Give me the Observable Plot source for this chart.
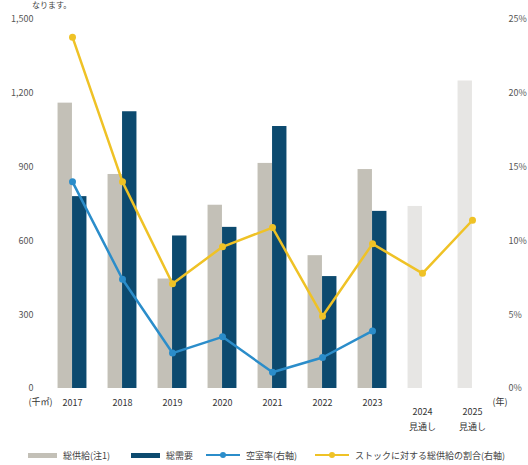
<!DOCTYPE html>
<html>
<head>
<meta charset="utf-8">
<script src="https://cdn.jsdelivr.net/npm/d3@7"></script>
<script src="https://cdn.jsdelivr.net/npm/@observablehq/plot@0.6"></script>
<style>
  body { margin: 0; background: #fff; font-family: "Noto Sans CJK JP", sans-serif; }
  #wrap { position: relative; width: 528px; height: 465px; overflow: hidden; }
  #top { position: absolute; left: 32px; top: 0px; font-size: 8px; line-height: 9px; color: #444; }
  #chart { position: absolute; left: 0; top: 0; }
  #legend { position: absolute; left: 0; top: 447px; width: 528px; height: 16px; font-size: 9px; color: #444; }
  .li { position: absolute; top: 0; display: flex; align-items: center; height: 16px; white-space: nowrap; }
  .sw { display: inline-block; margin-right: 6px; position: relative; }
</style>
</head>
<body>
<div id="wrap">
  <div id="chart"></div>
  <div id="top">なります。</div>
  <div id="legend"></div>
</div>
<script>
const years = ["2017", "2018", "2019", "2020", "2021", "2022", "2023", "2024", "2025"];
const forecastYears = ["2024", "2025"];
const supply = [1160, 870, 445, 745, 915, 540, 890, 740, 1250];      // 総供給 (千㎡)
const demand = [780, 1125, 620, 655, 1065, 455, 720, null, null];    // 総需要 (千㎡)
const vacancy = [14.0, 7.4, 2.4, 3.5, 1.1, 2.1, 3.9, null, null];   // 空室率 (%)
const supplyRatio = [23.8, 14.0, 7.1, 9.6, 10.9, 4.9, 9.8, 7.8, 11.4]; // ストックに対する総供給の割合 (%)
const leftTicks = [0, 300, 600, 900, 1200, 1500];
const rightTicks = [0, 5, 10, 15, 20, 25];
const forecastLabel = "見通し";
const seriesNames = ["総供給(注1)", "総需要", "空室率(右軸)", "ストックに対する総供給の割合(右軸)"];
const colors = { supply: "#c3c0b7", forecast: "#e7e6e4", demand: "#0c4a6f", vacancy: "#2b8dca", ratio: "#efc226" };

const k = 1500 / 25; // right axis % -> left axis units
const rows = years.map((y, i) => ({
  year: y, supply: supply[i], demand: demand[i], vacancy: vacancy[i], ratio: supplyRatio[i],
  forecast: forecastYears.includes(y)
}));

const W = 528, H = 432;
const bw = 14.5;
const plot = Plot.plot({
  width: W, height: H,
  marginLeft: 46, marginRight: 31, marginTop: 19, marginBottom: 44,
  style: { fontFamily: "'Noto Sans CJK JP', sans-serif", fontSize: "9px", color: "#555", background: "#fff" },
  x: { type: "band", domain: years, padding: 0, axis: null, label: null },
  y: { domain: [0, 1500], axis: null, label: null },
  marks: [
    Plot.gridY(leftTicks.slice(1), { stroke: "#d9d9d9", strokeOpacity: 1, x1: 43, x2: 497 }),
    Plot.ruleY([0], { stroke: "#d0d0d0", x1: 43, x2: 497 }),
    Plot.barY(rows, { x: "year", y: "supply", fill: d => d.forecast ? colors.forecast : colors.supply,
      insetLeft: 17.8, insetRight: 17.8, dx: -bw / 2 }),
    Plot.barY(rows.filter(d => d.demand != null), { x: "year", y: "demand", fill: colors.demand,
      insetLeft: 17.8, insetRight: 17.8, dx: bw / 2 }),
    Plot.line(rows, { x: "year", y: d => d.ratio * k, stroke: colors.ratio, strokeWidth: 2.5 }),
    Plot.dot(rows, { x: "year", y: d => d.ratio * k, fill: colors.ratio, r: 3.5 }),
    Plot.line(rows, { x: "year", y: d => d.vacancy == null ? NaN : d.vacancy * k, stroke: colors.vacancy, strokeWidth: 2.5 }),
    Plot.dot(rows.filter(d => d.vacancy != null), { x: "year", y: d => d.vacancy * k, fill: colors.vacancy, r: 3.5 }),
    Plot.axisY(leftTicks, { anchor: "left", tickSize: 0, tickPadding: 13, tickFormat: d3.format(","), fill: "#555", label: null }),
    Plot.axisY(rightTicks.map(v => v * k), { anchor: "right", tickSize: 0, tickPadding: 11, tickFormat: d => (d / k) + "%", fill: "#555", label: null }),
    Plot.axisX(years.filter(y => !forecastYears.includes(y)), { anchor: "bottom", tickSize: 0, tickPadding: 11, fill: "#333", label: null }),
    Plot.axisX(forecastYears, { anchor: "bottom", tickSize: 0, tickPadding: 16, fill: "#333", lineHeight: 1.65, label: null,
      tickFormat: d => d + "\n" + forecastLabel }),
    Plot.text(["(千㎡)"], { frameAnchor: "bottom-left", dx: -18, dy: 16, fill: "#333" }),
    Plot.text(["(年)"], { frameAnchor: "bottom-right", dx: 10, dy: 16, fill: "#333" })
  ]
});
document.getElementById("chart").appendChild(plot);

// legend
const legend = document.getElementById("legend");
const items = [
  { x: 28, name: seriesNames[0], type: "rect", color: colors.supply },
  { x: 131, name: seriesNames[1], type: "rect", color: colors.demand },
  { x: 206, name: seriesNames[2], type: "line", color: colors.vacancy },
  { x: 315, name: seriesNames[3], type: "line", color: colors.ratio }
];
for (const it of items) {
  const el = document.createElement("div");
  el.className = "li";
  el.style.left = it.x + "px";
  const sw = document.createElement("span");
  sw.className = "sw";
  sw.style.width = (it.type === "rect" ? 29 : 34) + "px";
  if (it.type === "rect") {
    sw.style.height = "5px";
    sw.style.background = it.color;
  } else {
    sw.style.height = "2.5px";
    sw.style.background = it.color;
    const dot = document.createElement("span");
    dot.style.cssText = `position:absolute;left:50%;top:50%;width:6px;height:6px;margin:-3px 0 0 -3px;border-radius:50%;background:${it.color}`;
    sw.appendChild(dot);
  }
  el.appendChild(sw);
  const t = document.createElement("span");
  t.textContent = it.name;
  el.appendChild(t);
  legend.appendChild(el);
}
</script>
</body>
</html>
